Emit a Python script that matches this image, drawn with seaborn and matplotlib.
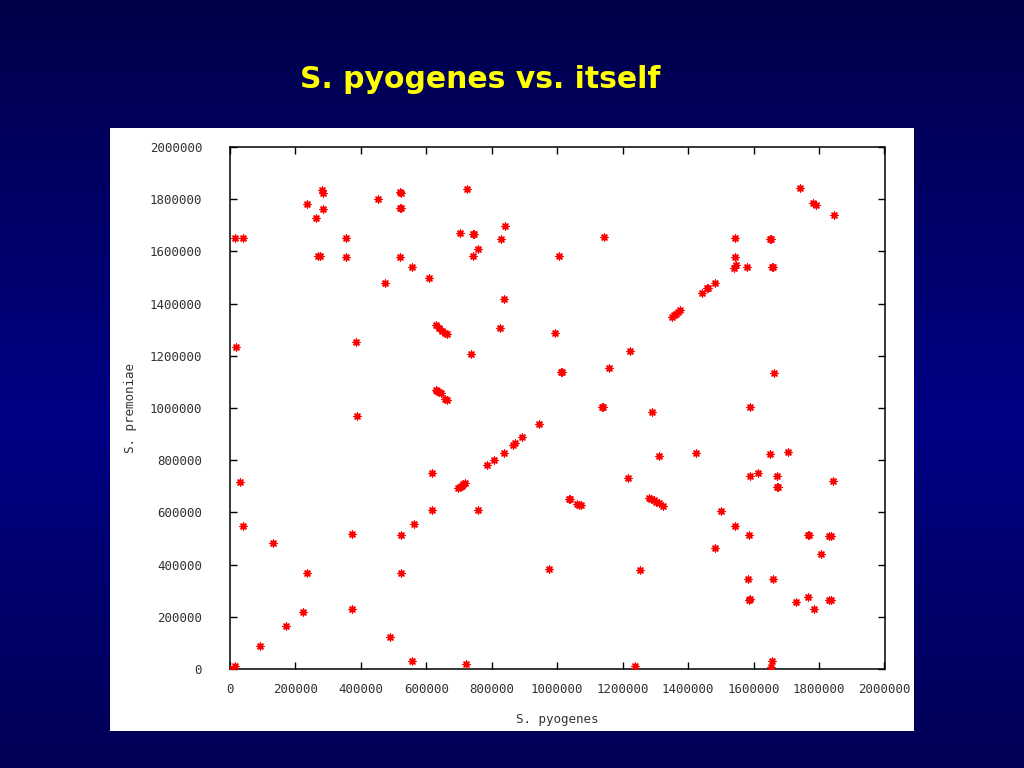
import numpy as np
import pandas as pd
import matplotlib
matplotlib.use("Agg")
import matplotlib.pyplot as plt
from matplotlib.patches import Rectangle
import seaborn as sns

# S. pyogenes positions (x) and S. premoniae positions (y)
pyogenes = [
    0, 15000, 93000, 131000, 170000, 224000, 235000, 374000, 374000, 489000,
    555000, 721000, 39000, 32000, 19000, 15000, 39000, 235000, 280000, 283000,
    285000, 262000, 270000, 275000, 355000, 355000, 452000, 519000, 523000, 519000,
    523000, 520000, 555000, 473000, 609000, 724000, 704000, 743000, 747000, 839000,
    829000, 758000, 743000, 836000, 825000, 735000, 385000, 388000, 524000, 563000,
    524000, 616000, 616000, 757000,
    631000, 638000, 648000, 657000, 662000,
    628000, 634000, 640000, 644000, 656000, 662000,
    696000, 702000, 708000, 713000, 718000,
    785000, 808000, 836000, 864000, 871000, 893000, 944000, 975000,
    993000, 1006000, 1010000, 1013000, 1136000, 1140000, 1143000, 1159000, 1223000,
    1035000, 1040000, 1060000, 1065000, 1072000,
    1280000, 1287000, 1295000, 1302000, 1310000, 1322000,
    1289000, 1312000, 1216000, 1254000, 1239000,
    1352000, 1358000, 1364000, 1370000, 1375000,
    1424000, 1443000, 1458000, 1462000, 1481000, 1481000, 1501000,
    1539000, 1546000, 1542000, 1543000, 1542000, 1585000, 1581000,
    1589000, 1589000, 1613000, 1582000, 1585000, 1589000,
    1649000, 1653000, 1657000, 1660000, 1663000, 1650000, 1670000, 1672000, 1676000,
    1658000, 1657000, 1653000, 1704000,
    1731000, 1743000, 1765000, 1766000, 1769000, 1783000, 1785000, 1791000,
    1805000, 1831000, 1835000, 1831000, 1835000, 1843000, 1846000,
]
premoniae = [
    0, 10000, 89000, 484000, 165000, 218000, 369000, 517000, 229000, 123000,
    31000, 20000, 548000, 715000, 1235000, 1651000, 1651000, 1782000, 1835000, 1825000,
    1762000, 1728000, 1581000, 1581000, 1651000, 1579000, 1800000, 1828000, 1824000, 1766000,
    1766000, 1579000, 1539000, 1478000, 1497000, 1839000, 1669000, 1665000, 1665000, 1699000,
    1646000, 1608000, 1584000, 1419000, 1308000, 1208000, 1252000, 971000, 513000, 556000,
    369000, 750000, 609000, 609000,
    1318000, 1305000, 1295000, 1287000, 1282000,
    1068000, 1064000, 1060000, 1058000, 1035000, 1030000,
    692000, 697000, 702000, 707000, 711000,
    783000, 802000, 826000, 858000, 864000, 890000, 938000, 382000,
    1286000, 1582000, 1137000, 1137000, 1005000, 1005000, 1656000, 1154000, 1217000,
    653000, 650000, 633000, 630000, 627000,
    656000, 652000, 646000, 640000, 636000, 626000,
    985000, 817000, 731000, 378000, 11000,
    1349000, 1355000, 1361000, 1368000, 1374000,
    826000, 1439000, 1458000, 1458000, 1478000, 465000, 605000,
    1538000, 1547000, 1579000, 1651000, 548000, 513000, 1540000,
    1005000, 739000, 751000, 344000, 264000, 268000,
    1649000, 1649000, 1540000, 1540000, 1135000, 823000, 739000, 698000, 698000,
    344000, 32000, 8000, 831000,
    258000, 1844000, 277000, 513000, 513000, 1785000, 229000, 1777000,
    442000, 511000, 511000, 263000, 263000, 720000, 1738000,
]

df = pd.DataFrame({"S. pyogenes": pyogenes, "S. premoniae": premoniae})

W, H = 1024, 768
fig = plt.figure(figsize=(W / 100, H / 100), dpi=100)

# gradient slide background
bg = fig.add_axes([0, 0, 1, 1], zorder=-5)
t = np.linspace(0, 1, 256)
grad = 1 - np.abs(t - 0.55) / 0.55
grad = np.clip(grad, 0, 1)
top = np.array([0x00, 0x00, 0x4a]) / 255
mid = np.array([0x00, 0x00, 0x85]) / 255
img = top[None, :] + (mid - top)[None, :] * grad[:, None]
img = np.repeat(img[:, None, :], 4, axis=1)
bg.imshow(img, aspect="auto", extent=[0, 1, 0, 1], origin="upper", zorder=0)
bg.add_patch(Rectangle((110 / W, 1 - 731 / H), (914 - 110) / W, (731 - 128) / H,
                       facecolor="white", edgecolor="none", zorder=2))
bg.set_xlim(0, 1)
bg.set_ylim(0, 1)
bg.set_axis_off()

fig.text(480 / W, 1 - 79 / H, "S. pyogenes vs. itself", color="#ffff00",
         fontsize=21.5, fontweight="bold", family=["DejaVu Sans"],
         ha="center", va="center")

ax = fig.add_axes([230 / W, 1 - 669 / H, (884.5 - 230) / W, (669 - 147) / H], zorder=2)
ax.set_facecolor("white")
sns.scatterplot(data=df, x="S. pyogenes", y="S. premoniae", ax=ax,
                marker=(8, 2, 0), color="red", edgecolor="red",
                linewidth=1.0, s=24, zorder=3)

ax.set_xlim(0, 2000000)
ax.set_ylim(0, 2000000)
ticks = np.arange(0, 2000001, 200000)
ax.set_xticks(ticks)
ax.set_yticks(ticks)
ax.set_xticklabels([str(v) for v in ticks])
ax.set_yticklabels([str(v) for v in ticks])
mono = ["DejaVu Sans Mono"]
for lab in ax.get_xticklabels() + ax.get_yticklabels():
    lab.set_family(mono)
    lab.set_fontsize(9)
    lab.set_color("#333333")
ax.tick_params(direction="in", length=5, width=1, top=True, right=True,
               color="black")
ax.tick_params(axis="y", pad=20)
ax.tick_params(axis="x", pad=10)
for s in ax.spines.values():
    s.set_color("black")
    s.set_linewidth(1.1)
ax.set_xlabel("S. pyogenes", family=mono, fontsize=9, color="#333333", labelpad=12)
ax.set_ylabel("S. premoniae", family=mono, fontsize=9, color="#333333", labelpad=9.5)
ax.grid(False)

fig.savefig("out.png", dpi=100)
